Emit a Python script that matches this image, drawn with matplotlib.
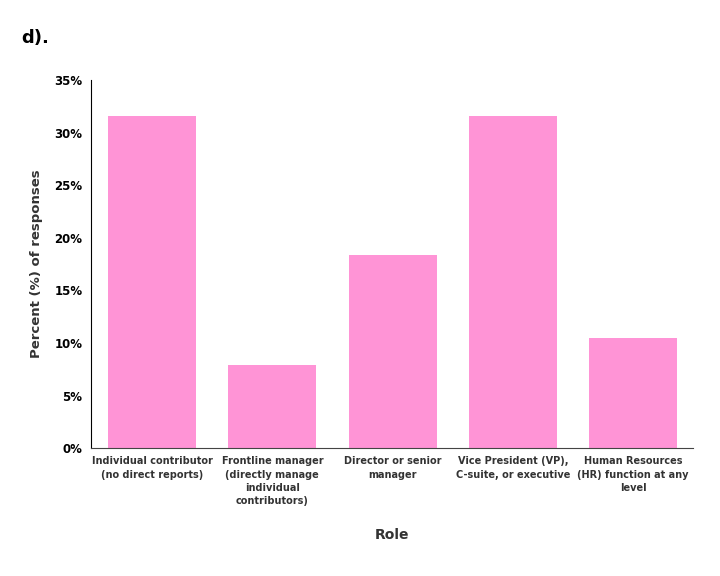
import matplotlib.pyplot as plt
from matplotlib.ticker import PercentFormatter

plt.rcParams['font.family'] = ['DejaVu Sans']

roles = ['Individual contributor\n(no direct reports)',
         'Frontline manager\n(directly manage\nindividual\ncontributors)',
         'Director or senior\nmanager',
         'Vice President (VP),\nC-suite, or executive',
         'Human Resources\n(HR) function at any\nlevel']
percent = [31.6, 7.9, 18.4, 31.6, 10.5]

fig = plt.figure(figsize=(7.2, 5.76), dpi=100)
ax = fig.add_axes([0.126, 0.222, 0.837, 0.639])

ax.bar(range(len(roles)), percent, width=0.73, color='#FF94D6')

ax.set_xlim(-0.51, 4.5)
ax.set_ylim(0, 35)
ax.set_yticks(range(0, 36, 5))
ax.yaxis.set_major_formatter(PercentFormatter(decimals=0))
ax.set_xticks(range(len(roles)))
ax.set_xticklabels(roles, fontsize=7, fontweight='bold', color='#333333',
                   linespacing=1.4)
for lbl in ax.get_yticklabels():
    lbl.set_fontweight('bold')
    lbl.set_fontsize(8.5)
ax.tick_params(length=0, pad=6)

ax.spines['top'].set_visible(False)
ax.spines['right'].set_visible(False)
ax.spines['left'].set_color('black')
ax.spines['bottom'].set_color('#444444')

ax.set_xlabel('Role', fontsize=10, fontweight='bold', color='#333333', labelpad=16)
ax.set_ylabel('Percent (%) of responses', fontsize=9.5, fontweight='bold',
              color='#333333', labelpad=8)

fig.text(0.03, 0.925, 'd).', fontsize=13, fontweight='bold')

fig.savefig('out.png', dpi=100)
